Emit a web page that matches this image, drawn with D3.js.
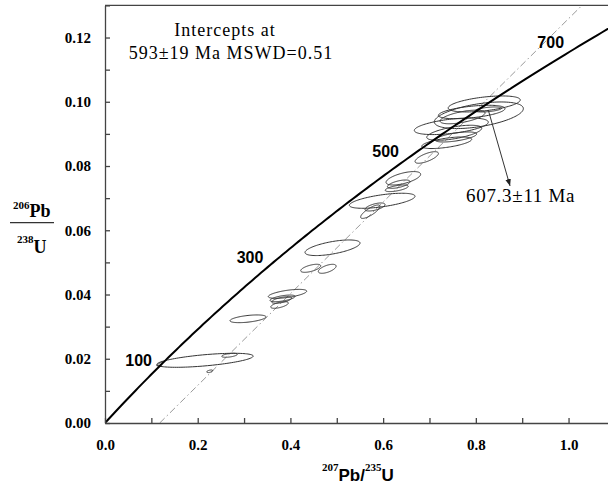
<!DOCTYPE html>
<html>
<head>
<meta charset="utf-8">
<script src="https://cdn.jsdelivr.net/npm/d3@7"></script>
<style>
  body { margin: 0; background: #fff; }
  svg { display: block; }
  .serif { font-family: 'Liberation Serif', 'Noto Serif', 'DejaVu Serif', serif; }
  .sans { font-family: 'Liberation Sans', Arial, Helvetica, sans-serif; }
</style>
</head>
<body>
<div id="chart"></div>
<script>
// concordia age labels (Ma)
const concordiaAges = [100, 300, 500, 700];

// analyses: 207Pb/235U, 1s, 206Pb/238U, 1s, rho
const ellipses = [
    [0.2157, 0.1040, 0.01952, 0.00218, 0.6],
    [0.2686, 0.0168, 0.02108, 0.00062, 0.5],
    [0.2259, 0.0065, 0.01610, 0.00040, 0.5],
    [0.1187, 0.0071, 0.01837, 0.00060, 0.85],
    [0.3085, 0.0388, 0.03244, 0.00120, 0.5],
    [0.3937, 0.0414, 0.04020, 0.00140, 0.6],
    [0.3830, 0.0270, 0.03880, 0.00103, 0.6],
    [0.3812, 0.0216, 0.03830, 0.00103, 0.6],
    [0.3765, 0.0190, 0.03674, 0.00103, 0.6],
    [0.4438, 0.0216, 0.04816, 0.00125, 0.6],
    [0.4794, 0.0192, 0.04800, 0.00140, 0.6],
    [0.4908, 0.0593, 0.05455, 0.00243, 0.6],
    [0.5980, 0.0708, 0.06918, 0.00234, 0.6],
    [0.5724, 0.0209, 0.06578, 0.00209, 0.8],
    [0.5825, 0.0216, 0.06725, 0.00125, 0.6],
    [0.6436, 0.0373, 0.07618, 0.00209, 0.6],
    [0.6337, 0.0244, 0.07435, 0.00130, 0.6],
    [0.6293, 0.0248, 0.07307, 0.00103, 0.6],
    [0.6941, 0.0252, 0.08266, 0.00180, 0.7],
    [0.7471, 0.0798, 0.09237, 0.00258, 0.5],
    [0.8065, 0.0960, 0.09580, 0.00414, 0.5],
    [0.8181, 0.0777, 0.09932, 0.00249, 0.5],
    [0.7911, 0.0718, 0.09682, 0.00209, 0.5],
    [0.8270, 0.0287, 0.09760, 0.00078, 0.5],
    [0.7534, 0.0593, 0.09035, 0.00234, 0.6],
    [0.7569, 0.0449, 0.08904, 0.00156, 0.6],
    [0.7372, 0.0539, 0.08724, 0.00180, 0.6],
    [0.7713, 0.0485, 0.09527, 0.00212, 0.6]
];

// discordia: upper intercept age (Ma) and where it meets 206/238 = 0
const upperInterceptAge = 593;
const discordiaXAtZero = 0.118;

const xTicks = [0, 0.1, 0.2, 0.3, 0.4, 0.5, 0.6, 0.7, 0.8, 0.9, 1.0, 1.1];
const yTicks = [0, 0.01, 0.02, 0.03, 0.04, 0.05, 0.06, 0.07, 0.08, 0.09, 0.10, 0.11, 0.12, 0.13];

const interceptText = ["Intercepts at", "593\u00b119 Ma MSWD=0.51"];
const weightedText = "607.3\u00b111 Ma";
// arrow from the weighted mean to its label, in ratio units
const arrowFrom = [0.8268, 0.09745];
const arrowTo = [0.8738, 0.07379];

const L235 = 9.8485e-4, L238 = 1.55125e-4; // per Ma
const conc = t => [Math.exp(L235 * t) - 1, Math.exp(L238 * t) - 1];

const W = 608, H = 486;
const svg = d3.select("#chart").append("svg")
    .attr("width", W)
    .attr("height", H);

const x = d3.scaleLinear().domain([0, 1.1]).range([105, 614.9]);
const y = d3.scaleLinear().domain([0, 0.13]).range([423, 5.4]);

svg.append("clipPath").attr("id", "clip")
    .append("rect")
    .attr("x", x(0)).attr("y", y(0.13))
    .attr("width", x(1.1) - x(0)).attr("height", y(0) - y(0.13));

const plot = svg.append("g").attr("clip-path", "url(#clip)");

// discordia
const p593 = conc(upperInterceptAge);
const slope = p593[1] / (p593[0] - discordiaXAtZero);
plot.append("line")
    .attr("x1", x(discordiaXAtZero)).attr("y1", y(0))
    .attr("x2", x(discordiaXAtZero + 0.13 / slope)).attr("y2", y(0.13))
    .attr("stroke", "#999")
    .attr("stroke-width", 1)
    .attr("stroke-dasharray", "7,3,1.5,3");

// error ellipses
const ellLine = d3.line().x(d => x(d[0])).y(d => y(d[1])).curve(d3.curveLinearClosed);
function ellipsePts(e) {
    const pts = [];
    const r = e[4], q = Math.sqrt(1 - r * r);
    for (let a = 0; a < 2 * Math.PI; a += Math.PI / 60) {
        pts.push([e[0] + e[1] * Math.cos(a), e[2] + e[3] * (r * Math.cos(a) + q * Math.sin(a))]);
    }
    return pts;
}
plot.selectAll("path.ell")
    .data(ellipses)
    .enter().append("path")
    .attr("class", "ell")
    .attr("d", d => ellLine(ellipsePts(d)))
    .attr("fill", "none")
    .attr("stroke", "#333")
    .attr("stroke-width", 1);

// concordia curve
const concPts = d3.range(0, 801, 5).map(conc);
plot.append("path")
    .attr("d", d3.line().x(d => x(d[0])).y(d => y(d[1]))(concPts))
    .attr("fill", "none")
    .attr("stroke", "#000")
    .attr("stroke-width", 2);

svg.selectAll("text.age")
    .data(concordiaAges)
    .enter().append("text")
    .attr("class", "age sans")
    .attr("x", d => x(conc(d)[0]) - 1)
    .attr("y", d => y(conc(d)[1]) - 7)
    .attr("text-anchor", "end")
    .attr("font-weight", "bold")
    .attr("font-size", 16)
    .text(d => d);

// axes
const xAxis = d3.axisBottom(x).tickValues(xTicks).tickSizeInner(-5).tickSizeOuter(0).tickPadding(16)
    .tickFormat(d => Math.round(d * 10) % 2 === 0 && d < 1.05 ? d3.format(".1f")(d) : "");
const yAxis = d3.axisLeft(y).tickValues(yTicks).tickSizeInner(-5).tickSizeOuter(0).tickPadding(14)
    .tickFormat(d => Math.round(d * 100) % 2 === 0 && d < 0.125 ? d3.format(".2f")(d) : "");

const gx = svg.append("g").attr("transform", `translate(0,${y(0)})`).call(xAxis);
const gy = svg.append("g").attr("transform", `translate(${x(0)},0)`).call(yAxis);
[gx, gy].forEach(g => {
    g.attr("font-family", null);
    g.selectAll("path, line").attr("stroke", "#444").attr("stroke-width", 1.3);
    g.selectAll("text")
        .attr("class", "serif")
        .attr("font-weight", "bold")
        .attr("font-size", 15)
        .attr("fill", "#000");
});

// top frame
svg.append("line")
    .attr("x1", x(0)).attr("x2", W)
    .attr("y1", y(0.13)).attr("y2", y(0.13))
    .attr("stroke", "#444").attr("stroke-width", 1.3);

// annotations
const ann = svg.append("text")
    .attr("class", "serif")
    .attr("font-size", 18)
    .attr("letter-spacing", 1)
    .attr("text-anchor", "middle");
ann.append("tspan").attr("x", 225).attr("y", 36).text(interceptText[0]);
ann.append("tspan").attr("x", 231).attr("y", 59).text(interceptText[1]);

svg.append("defs").append("marker")
    .attr("id", "arr")
    .attr("viewBox", "0 0 10 10")
    .attr("refX", 10).attr("refY", 5)
    .attr("markerWidth", 7).attr("markerHeight", 7)
    .attr("orient", "auto")
    .append("path").attr("d", "M0,1 L10,5 L0,9 Z").attr("fill", "#222");

svg.append("line")
    .attr("x1", x(arrowFrom[0])).attr("y1", y(arrowFrom[1]))
    .attr("x2", x(arrowTo[0])).attr("y2", y(arrowTo[1]))
    .attr("stroke", "#333").attr("stroke-width", 1)
    .attr("marker-end", "url(#arr)");

svg.append("text")
    .attr("class", "serif")
    .attr("x", 466).attr("y", 202)
    .attr("font-size", 19)
    .attr("letter-spacing", 0.7)
    .text(weightedText);

// axis titles
const xt = svg.append("text")
    .attr("x", 322).attr("y", 481)
    .attr("font-weight", "bold");
xt.append("tspan").attr("class", "serif").attr("font-size", 11).attr("dy", -10).text("207");
xt.append("tspan").attr("class", "sans").attr("font-size", 17).attr("dy", 10).text("Pb/");
xt.append("tspan").attr("class", "serif").attr("font-size", 11).attr("dy", -10).text("235");
xt.append("tspan").attr("class", "sans").attr("font-size", 17).attr("dy", 10).text("U");

const yt = svg.append("g").attr("font-weight", "bold");
const ytTop = yt.append("text").attr("class", "serif").attr("x", 13).attr("y", 217);
ytTop.append("tspan").attr("font-size", 11).attr("dy", -8).text("206");
ytTop.append("tspan").attr("font-size", 18).attr("dy", 8).text("Pb");
yt.append("line").attr("x1", 10).attr("x2", 54).attr("y1", 222.7).attr("y2", 222.7)
    .attr("stroke", "#333").attr("stroke-width", 1.3);
const ytBot = yt.append("text").attr("class", "serif").attr("x", 17).attr("y", 253);
ytBot.append("tspan").attr("font-size", 11).attr("dy", -10).text("238");
ytBot.append("tspan").attr("font-size", 18).attr("dy", 10).text("U");
</script>
</body>
</html>
